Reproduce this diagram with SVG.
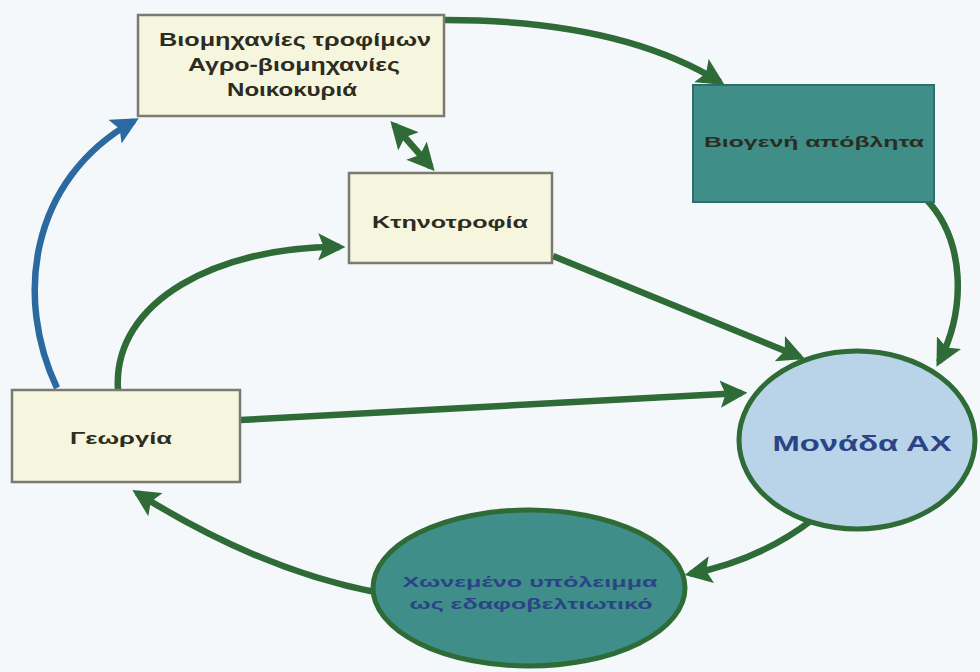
<svg xmlns="http://www.w3.org/2000/svg" width="980" height="672" viewBox="0 0 980 672">
<style>
.box{fill:#f6f6de;stroke:#7a7a72;stroke-width:2.5}
.t{font-family:"Liberation Sans",Arial,sans-serif;font-weight:bold;fill:#2c2c22;text-anchor:middle}
.tb{font-family:"Liberation Sans",Arial,sans-serif;font-weight:bold;fill:#2a4486;text-anchor:middle}
.g{fill:none;stroke:#2e6b36;stroke-width:6.5}
.b{fill:none;stroke:#2b69a0;stroke-width:6.5}
</style>
<defs>
<marker id="ag" viewBox="0 0 10 10" refX="8" refY="5" markerWidth="4.2" markerHeight="4.2" orient="auto-start-reverse" markerUnits="strokeWidth">
<path d="M0,0 L10,5 L0,10 L2,5 z" fill="#2e6b36"/>
</marker>
<marker id="ab" viewBox="0 0 10 10" refX="8" refY="5" markerWidth="4.2" markerHeight="4.2" orient="auto" markerUnits="strokeWidth">
<path d="M0,0 L10,5 L0,10 L2,5 z" fill="#2b69a0"/>
</marker>
</defs>
<rect width="980" height="672" fill="#f4f8fb"/>

<g id="connectors">
<path class="b" d="M57 388 C15 300, 28 180, 134 121" marker-end="url(#ab)"/>
<path class="g" d="M118 390 C112 300, 220 246, 340 247" marker-end="url(#ag)"/>
<path class="g" d="M445 20 Q620 20 720 82" marker-end="url(#ag)"/>
<path class="g" d="M394 125 L431 167" marker-start="url(#ag)" marker-end="url(#ag)"/>
<path class="g" d="M925 198 C966 240, 966 310, 939 362" marker-end="url(#ag)"/>
<path class="g" d="M553 256 L800 357" marker-end="url(#ag)"/>
<path class="g" d="M240 420 L742 393" marker-end="url(#ag)"/>
<path class="g" d="M812 520 Q760 560 690 574" marker-end="url(#ag)"/>
<path class="g" d="M375 592 Q260 570 137 493" marker-end="url(#ag)"/>
</g>

<g id="node-industries">
<rect class="box" x="138" y="15" width="306" height="101"/>
<text class="t" x="295" y="46" font-size="18" textLength="272" lengthAdjust="spacingAndGlyphs">Βιομηχανίες τροφίμων</text>
<text class="t" x="294" y="71" font-size="18" textLength="212" lengthAdjust="spacingAndGlyphs">Αγρο-βιομηχανίες</text>
<text class="t" x="292" y="96" font-size="18" textLength="130" lengthAdjust="spacingAndGlyphs">Νοικοκυριά</text>
</g>

<g id="node-biowaste">
<rect x="693" y="85" width="241" height="117" fill="#3f8e88" stroke="#2f6e6a" stroke-width="2"/>
<text class="t" x="814" y="147" font-size="15" fill="#1e2a28" textLength="220" lengthAdjust="spacingAndGlyphs">Βιογενή απόβλητα</text>
</g>

<g id="node-livestock">
<rect class="box" x="349" y="173" width="203" height="90"/>
<text class="t" x="450" y="228" font-size="17" textLength="156" lengthAdjust="spacingAndGlyphs">Κτηνοτροφία</text>
</g>

<g id="node-agriculture">
<rect class="box" x="12" y="390" width="228" height="92"/>
<text class="t" x="121" y="444" font-size="16" textLength="102" lengthAdjust="spacingAndGlyphs">Γεωργία</text>
</g>

<g id="node-plant">
<ellipse cx="857" cy="440" rx="118" ry="89" fill="#b9d3e8" stroke="#2e6b36" stroke-width="5"/>
<text class="tb" x="862" y="451" font-size="22" textLength="179" lengthAdjust="spacingAndGlyphs">Μονάδα ΑΧ</text>
</g>

<g id="node-digestate">
<ellipse cx="529" cy="588" rx="156" ry="78" fill="#3f8e8a" stroke="#2e6b36" stroke-width="5"/>
<text class="tb" x="530" y="587" font-size="15" textLength="255" lengthAdjust="spacingAndGlyphs">Χωνεμένο υπόλειμμα</text>
<text class="tb" x="531" y="609" font-size="15" textLength="243" lengthAdjust="spacingAndGlyphs">ως εδαφοβελτιωτικό</text>
</g>
</svg>
